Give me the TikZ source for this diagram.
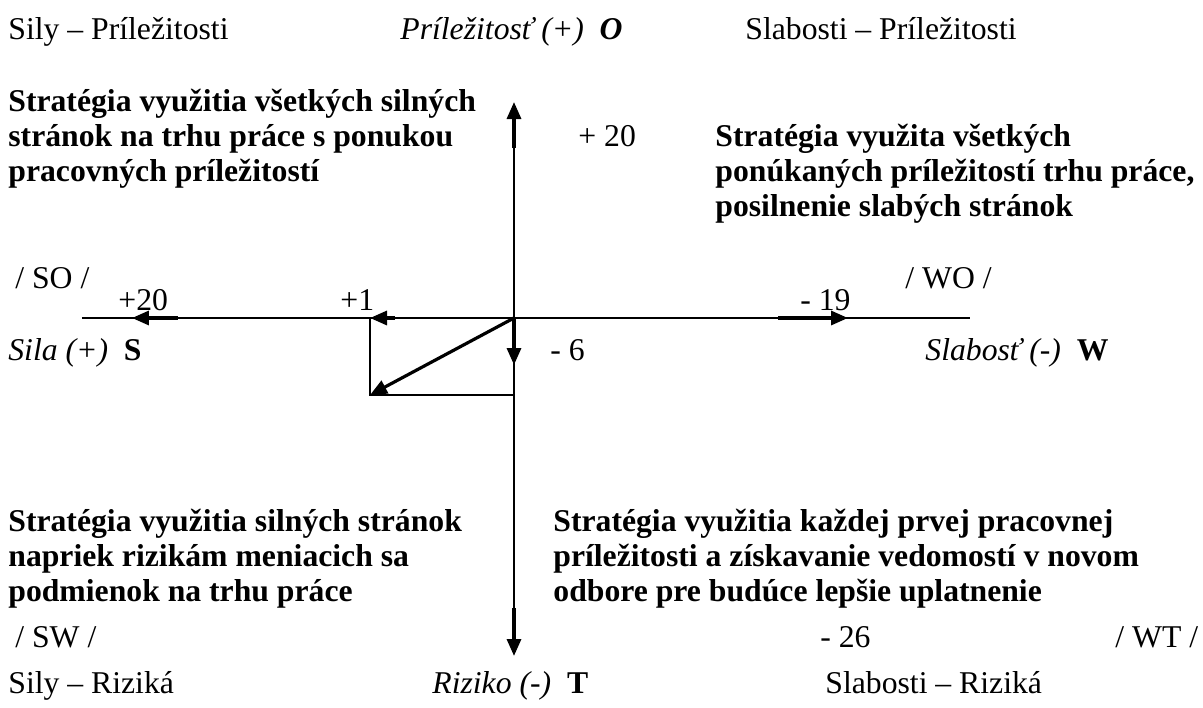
\documentclass[tikz,border=0pt]{standalone}
\usepackage{fontspec}
\setmainfont{Liberation Serif}
\usetikzlibrary{arrows.meta}
\newcommand{\txtsize}{\fontsize{15.85}{17.5}\selectfont}
\tikzset{>={Triangle[length=8.5pt,width=7pt]}}
\tikzset{axis/.style={line width=1pt},
  vec/.style={line width=1.6pt,->},
  lbl/.style={anchor=base west,inner sep=0pt,font=\txtsize},
  strat/.style={anchor=north west,inner sep=0pt,align=left,font=\txtsize\bfseries}}

\begin{document}
\begin{tikzpicture}[x=0.5pt,y=0.5pt]
  \useasboundingbox (-514,-389) rectangle (689,318);

  % axes
  \coordinate (O) at (0,0);
  \coordinate (west) at (-432,0);
  \coordinate (east) at (456,0);
  \coordinate (ntail) at (0,170);
  \coordinate (ntip) at (0,216);
  \coordinate (stail) at (0,-290);
  \coordinate (stip) at (0,-338);
  \draw[axis] (west) -- (east);
  \draw[axis] (ntail) -- (stail);
  \draw[vec] (ntail) -- (ntip);
  \draw[vec] (stail) -- (stip);

  % values on the axes
  \coordinate (s20tail) at (-336,0);
  \coordinate (s20tip) at (-382,0);
  \coordinate (s1tail) at (-119,0);
  \coordinate (s1tip) at (-144,0);
  \coordinate (w19tail) at (264,0);
  \coordinate (w19tip) at (334,0);
  \coordinate (t6tip) at (0,-47);
  \coordinate (res) at (-144,-77);
  \coordinate (resT) at (0,-77);
  \draw[vec] (s20tail) -- (s20tip);
  \draw[vec] (s1tail) -- (s1tip);
  \draw[vec] (w19tail) -- (w19tip);
  \draw[vec] (O) -- (t6tip);
  \draw[axis] (s1tip) -- (res) -- (resT);
  \draw[vec] (O) -- (res);

  % corners
  \node[lbl] (so) at (-506,278) {Sily – Príležitosti};
  \node[lbl] (opp) at (-114,278) {\textit{Príležitosť (+)}\ \ \textbf{\textit{O}}};
  \node[lbl] (wo) at (231,278) {Slabosti – Príležitosti};
  \node[lbl] (st) at (-506,-375) {Sily – Riziká};
  \node[lbl] (thr) at (-82,-375) {\textit{Riziko (-)}\ \ \textbf{T}};
  \node[lbl] (wt) at (311,-375) {Slabosti – Riziká};
  \node[lbl] (str) at (-506,-42) {\textit{Sila (+)}\ \ \textbf{S}};
  \node[lbl] (wea) at (411,-42) {\textit{Slabosť (-)}\ \ \textbf{W}};

  % strategies
  \node[strat] (stratSO) at (-506,229) {Stratégia využitia všetkých silných\\stránok na trhu práce s ponukou\\pracovných príležitostí};
  \node[strat] (stratWO) at (201,194) {Stratégia využita všetkých\\ponúkaných príležitostí trhu práce,\\posilnenie slabých stránok};
  \node[strat] (stratST) at (-506,-191) {Stratégia využitia silných stránok\\napriek rizikám meniacich sa\\podmienok na trhu práce};
  \node[strat] (stratWT) at (39,-191) {Stratégia využitia každej prvej pracovnej\\príležitosti a získavanie vedomostí v novom\\odbore pre budúce lepšie uplatnenie};

  % tags and values
  \node[lbl] (tagSO) at (-499,30) {/ SO /};
  \node[lbl] (tagWO) at (391,30) {/ WO /};
  \node[lbl] (tagSW) at (-499,-329) {/ SW /};
  \node[lbl] (tagWT) at (601,-329) {/ WT /};
  \node[lbl] (vO) at (64,171) {+ 20};
  \node[lbl] (vS20) at (-396,8) {+20};
  \node[lbl] (vS1) at (-174,8) {+1};
  \node[lbl] (vW) at (286,8) {- 19};
  \node[lbl] (vT6) at (36,-42) {- 6};
  \node[lbl] (vT26) at (306,-329) {- 26};
\end{tikzpicture}
\end{document}
